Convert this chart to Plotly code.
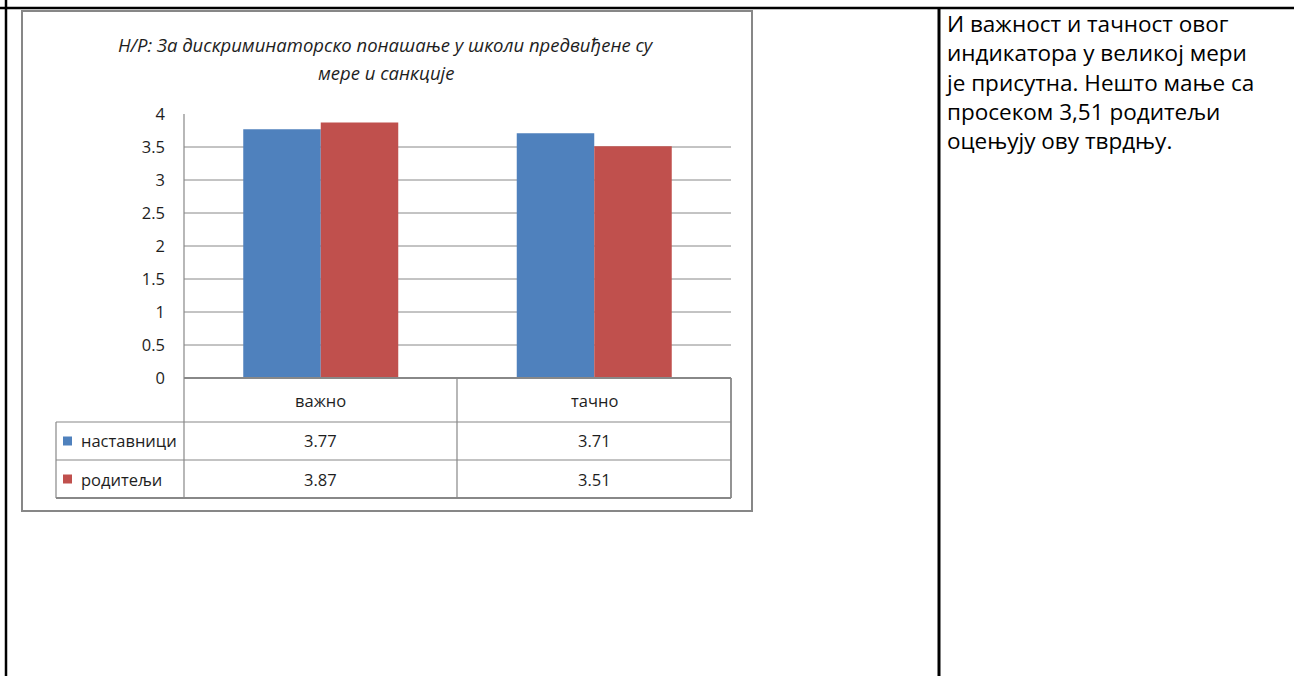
import plotly.graph_objects as go

W, H = 1294, 676

categories = ["важно", "тачно"]
series_names = ["наставници", "родитељи"]
teachers = [3.77, 3.71]
parents = [3.87, 3.51]
series_colors = ["#4F81BD", "#C0504D"]
y_ticks = [0, 0.5, 1, 1.5, 2, 2.5, 3, 3.5, 4]
y_tick_labels = ["0", "0.5", "1", "1.5", "2", "2.5", "3", "3.5", "4"]
title_lines = ["Н/Р: За дискриминаторско понашање у школи предвиђене су",
               "мере и санкције"]
comment_lines = ["И важност и тачност овог",
                 "индикатора у великој мери",
                 "је присутна. Нешто мање са",
                 "просеком 3,51 родитељи",
                 "оцењују ову тврдњу."]

FONT = "Open Sans"
GRID = "#888888"
TXT = "#1e1e1e"


def px(x):
    return x / W


def py(y):
    return 1 - y / H


# plot area in pixels
PL, PR, PT, PB = 184, 731, 114, 378

fig = go.Figure()
for name, vals, col in zip(series_names, [teachers, parents], series_colors):
    fig.add_trace(go.Bar(x=categories, y=vals, name=name, marker_color=col,
                         marker_line_width=0, hoverinfo="x+y+name"))

shapes = []
annotations = []


def line(x0, y0, x1, y1, color=GRID, width=1):
    shapes.append(dict(type="line", xref="paper", yref="paper",
                       x0=px(x0), y0=py(y0), x1=px(x1), y1=py(y1),
                       line=dict(color=color, width=width)))


# gridlines (data coords)
for v in y_ticks[1:-1]:
    shapes.append(dict(type="line", xref="paper", yref="y", x0=px(PL), x1=px(PR),
                       y0=v, y1=v, line=dict(color=GRID, width=1), layer="below"))

# document table lines
line(0, 8, W, 8, "#000000", 2.5)
line(6, 0, 6, H, "#000000", 2.5)
line(939, 8, 939, H, "#000000", 3)

# chart frame
shapes.append(dict(type="rect", xref="paper", yref="paper",
                   x0=px(22), x1=px(752), y0=py(11), y1=py(511),
                   line=dict(color="#878787", width=2), fillcolor="rgba(0,0,0,0)"))

# axis / data table lines
line(PL, PT, PL, 498, GRID, 1.2)
line(PL, PB, PR, PB, GRID, 1.8)
line(56, 422, PR, 422, GRID, 1.2)
line(56, 460, PR, 460, GRID, 1.2)
line(56, 498, PR, 498, GRID, 1.8)
line(56, 422, 56, 498, GRID, 1.2)
line(457, PB, 457, 498, GRID, 1.2)
line(PR, PB, PR, 498, GRID, 1.8)

# category centers in pixels
cat_w = (PR - PL) / len(categories)
centers = [PL + cat_w * (i + 0.5) for i in range(len(categories))]
row_y = [400, 441, 479]

for c, cat in zip(centers, categories):
    annotations.append(dict(x=px(c), y=py(row_y[0]), xref="paper", yref="paper",
                            text=cat, showarrow=False, xanchor="center", yanchor="middle",
                            font=dict(family=FONT, size=16.5, color=TXT)))

for r, (name, vals, col) in enumerate(zip(series_names, [teachers, parents], series_colors)):
    yc = row_y[r + 1]
    shapes.append(dict(type="rect", xref="paper", yref="paper",
                       x0=px(63), x1=px(72), y0=py(yc - 4.5), y1=py(yc + 4.5),
                       fillcolor=col, line=dict(width=0)))
    annotations.append(dict(x=px(79), y=py(yc), xref="paper", yref="paper",
                            text=name, showarrow=False, xanchor="left", yanchor="middle",
                            font=dict(family=FONT, size=16.5, color=TXT)))
    for c, v in zip(centers, vals):
        annotations.append(dict(x=px(c), y=py(yc), xref="paper", yref="paper",
                                text=f"{v:.2f}", showarrow=False, xanchor="center",
                                yanchor="middle",
                                font=dict(family=FONT, size=16.5, color=TXT)))

# title
for t, yy in zip(title_lines, [45, 73]):
    annotations.append(dict(x=px(386), y=py(yy), xref="paper", yref="paper",
                            text=f"<i>{t}</i>", showarrow=False, xanchor="center",
                            yanchor="middle",
                            font=dict(family=FONT, size=18.5, color=TXT)))

# comment text (one block, 1.3em line height ~ 29px)
annotations.append(dict(x=px(943), y=py(6), xref="paper", yref="paper",
                        text="<br>".join(comment_lines), showarrow=False,
                        xanchor="left", yanchor="top", align="left",
                        font=dict(family=FONT, size=22.5, color="#000000")))

fig.update_layout(
    width=W, height=H,
    margin=dict(l=0, r=0, t=0, b=0, pad=0, autoexpand=False),
    paper_bgcolor="white", plot_bgcolor="white",
    showlegend=False,
    barmode="group", bargap=0.4333, bargroupgap=0,
    xaxis=dict(domain=[px(PL), px(PR)], showticklabels=False, showgrid=False,
               zeroline=False, showline=False, ticks="", automargin=False),
    yaxis=dict(domain=[py(PB), py(PT)], range=[0, 4], tickvals=y_ticks,
               ticktext=y_tick_labels, showgrid=False, zeroline=False,
               showline=False, ticks="", ticklabelstandoff=18, automargin=False,
               tickfont=dict(family=FONT, size=16.5, color=TXT)),
    shapes=shapes,
    annotations=annotations,
)

fig.write_html(
    "out.html",
    config={"displayModeBar": False},
    post_script="document.body.style.margin='0px';document.body.style.padding='0px';"
                "document.body.style.overflow='hidden';"
                "var gd=document.getElementById('{plot_id}');"
                "gd.style.position='absolute';gd.style.top='0px';gd.style.left='0px';",
)
